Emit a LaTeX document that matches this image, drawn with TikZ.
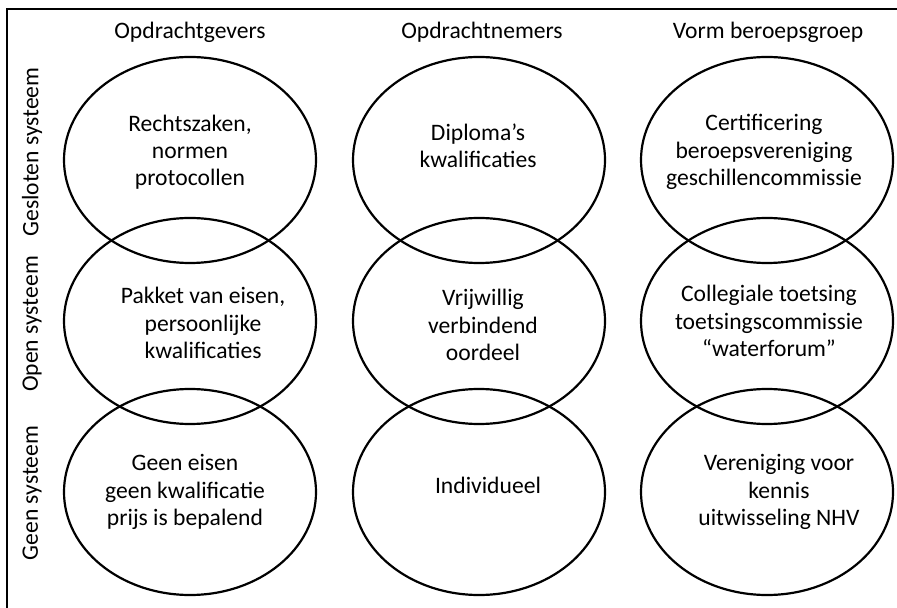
\documentclass[tikz,border=0pt]{standalone}
\usepackage{fontspec}
\setmainfont{Carlito}
\usetikzlibrary{shapes.geometric}
\tikzset{
  kring/.style={ellipse,draw,line width=1.1pt,minimum width=126pt,minimum height=103pt,inner sep=0pt},
  tekst/.style={align=center,inner sep=1pt,font=\fontsize{11.8}{13.6}\selectfont},
}
\begin{document}
\begin{tikzpicture}[x=0.5pt,y=-0.5pt]
\useasboundingbox (0,0) rectangle (897,608);
\draw[line width=1pt] (7,608) -- (7,9) -- (897,9);
% kolomkoppen
\node[tekst] (kop1) at (190,32) {Opdrachtgevers};
\node[tekst] (kop2) at (482,32) {Opdrachtnemers};
\node[tekst] (kop3) at (768,32) {Vorm beroepsgroep};
% rijkoppen
\node[tekst,rotate=90] (rij1) at (32,152) {Gesloten systeem};
\node[tekst,rotate=90] (rij2) at (32,324) {Open systeem};
\node[tekst,rotate=90] (rij3) at (32,493) {Geen systeem};
% ellipsen
\foreach \k/\x in {1/190,2/479,3/767}
  \foreach \r/\y in {1/160,2/321,3/492}
    \node[kring] (e\r\k) at (\x,\y) {};
% teksten
\node[tekst] (t11) at (190,152) {Rechtszaken,\\normen\\protocollen};
\node[tekst] (t21) at (203,323) {Pakket van eisen,\\persoonlijke\\kwalificaties};
\node[tekst] (t31) at (185,492) {Geen eisen\\geen kwalificatie\\prijs is bepalend};
\node[tekst] (t12) at (478,146) {Diploma’s\\kwalificaties};
\node[tekst] (t22) at (483,325) {Vrijwillig\\verbindend\\oordeel};
\node[tekst] (t32) at (488,485) {Individueel};
\node[tekst] (t13) at (764,152) {Certificering\\beroepsvereniging\\geschillencommissie};
\node[tekst] (t23) at (769,321) {Collegiale toetsing\\toetsingscommissie\\“waterforum”};
\node[tekst] (t33) at (779,492) {Vereniging voor\\kennis\\uitwisseling NHV};
\end{tikzpicture}
\end{document}
